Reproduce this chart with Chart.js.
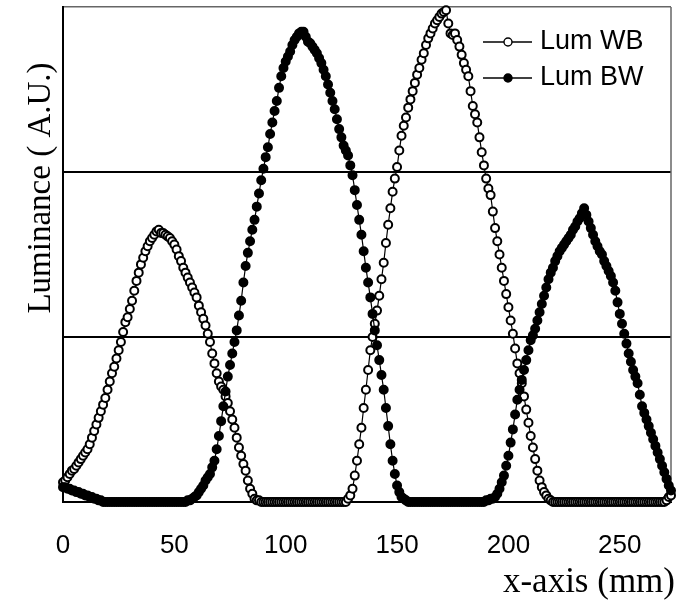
<!DOCTYPE html>
<html>
<head>
<meta charset="utf-8">
<title>Luminance profile</title>
<script src="https://cdn.jsdelivr.net/npm/chart.js@4.4.1/dist/chart.umd.min.js"></script>
<style>
  html, body { margin: 0; padding: 0; background: #fff; }
  #wrap { width: 677px; height: 601px; }
</style>
</head>
<body>
<div id="wrap"><canvas id="lumChart" width="677" height="601"></canvas></div>
<script>
// x position of every sample (mm)
const positions = [
  0, 1, 2, 3, 4, 5, 6, 7, 8, 9,
  10, 11, 12, 13, 14, 15, 16, 17, 18, 19,
  20, 21, 22, 23, 24, 25, 26, 27, 28, 29,
  30, 31, 32, 33, 34, 35, 36, 37, 38, 39,
  40, 41, 42, 43, 44, 45, 46, 47, 48, 49,
  50, 51, 52, 53, 54, 55, 56, 57, 58, 59,
  60, 61, 62, 63, 64, 65, 66, 67, 68, 69,
  70, 71, 72, 73, 74, 75, 76, 77, 78, 79,
  80, 81, 82, 83, 84, 85, 86, 87, 88, 89,
  90, 91, 92, 93, 94, 95, 96, 97, 98, 99,
  100, 101, 102, 103, 104, 105, 106, 107, 108, 109,
  110, 111, 112, 113, 114, 115, 116, 117, 118, 119,
  120, 121, 122, 123, 124, 125, 126, 127, 128, 129,
  130, 131, 132, 133, 134, 135, 136, 137, 138, 139,
  140, 141, 142, 143, 144, 145, 146, 147, 148, 149,
  150, 151, 152, 153, 154, 155, 156, 157, 158, 159,
  160, 161, 162, 163, 164, 165, 166, 167, 168, 169,
  170, 171, 172, 173, 174, 175, 176, 177, 178, 179,
  180, 181, 182, 183, 184, 185, 186, 187, 188, 189,
  190, 191, 192, 193, 194, 195, 196, 197, 198, 199,
  200, 201, 202, 203, 204, 205, 206, 207, 208, 209,
  210, 211, 212, 213, 214, 215, 216, 217, 218, 219,
  220, 221, 222, 223, 224, 225, 226, 227, 228, 229,
  230, 231, 232, 233, 234, 235, 236, 237, 238, 239,
  240, 241, 242, 243, 244, 245, 246, 247, 248, 249,
  250, 251, 252, 253, 254, 255, 256, 257, 258, 259,
  260, 261, 262, 263, 264, 265, 266, 267, 268, 269,
  270, 271, 272, 273
];

// white-black pattern
const lumWB = [
  0.12, 0.13, 0.15, 0.17, 0.19, 0.20, 0.22, 0.24, 0.26, 0.28,
  0.30, 0.32, 0.35, 0.39, 0.43, 0.47, 0.51, 0.55, 0.59, 0.63,
  0.68, 0.73, 0.78, 0.82, 0.87, 0.92, 0.97, 1.03, 1.09, 1.12,
  1.17, 1.22, 1.28, 1.34, 1.39, 1.44, 1.48, 1.52, 1.55, 1.58,
  1.60, 1.62, 1.64, 1.65, 1.63, 1.63, 1.62, 1.61, 1.60, 1.58,
  1.56, 1.53, 1.49, 1.46, 1.42, 1.39, 1.36, 1.33, 1.30, 1.27,
  1.24, 1.19, 1.15, 1.11, 1.07, 1.02, 0.97, 0.90, 0.84, 0.78,
  0.73, 0.70, 0.68, 0.64, 0.60, 0.55, 0.50, 0.45, 0.39, 0.33,
  0.28, 0.23, 0.19, 0.13, 0.08, 0.05, 0.02, 0.01, 0.01, 0,
  0, 0, 0, 0, 0, 0, 0, 0, 0, 0,
  0, 0, 0, 0, 0, 0, 0, 0, 0, 0,
  0, 0, 0, 0, 0, 0, 0, 0, 0, 0,
  0, 0, 0, 0, 0, 0, 0, 0, 0.02, 0.04,
  0.08, 0.16, 0.25, 0.35, 0.45, 0.57, 0.68, 0.80, 0.92, 1.00,
  1.08, 1.16, 1.25, 1.35, 1.45, 1.57, 1.68, 1.78, 1.88, 1.96,
  2.03, 2.13, 2.22, 2.28, 2.33, 2.39, 2.44, 2.49, 2.54, 2.59,
  2.63, 2.68, 2.72, 2.77, 2.81, 2.84, 2.87, 2.90, 2.92, 2.94,
  2.96, 2.97, 2.98, 2.90, 2.84, 2.83, 2.84, 2.80, 2.76, 2.71,
  2.66, 2.62, 2.58, 2.49, 2.40, 2.35, 2.30, 2.21, 2.12, 2.04,
  1.96, 1.90, 1.86, 1.76, 1.66, 1.58, 1.50, 1.42, 1.34, 1.26,
  1.18, 1.10, 1.02, 0.93, 0.84, 0.78, 0.72, 0.64, 0.56, 0.48,
  0.40, 0.33, 0.26, 0.19, 0.13, 0.09, 0.06, 0.04, 0.02, 0.01,
  0, 0, 0, 0, 0, 0, 0, 0, 0, 0,
  0, 0, 0, 0, 0, 0, 0, 0, 0, 0,
  0, 0, 0, 0, 0, 0, 0, 0, 0, 0,
  0, 0, 0, 0, 0, 0, 0, 0, 0, 0,
  0, 0, 0, 0, 0, 0, 0, 0, 0, 0,
  0, 0.01, 0.03, 0.04
];

// black-white pattern
const lumBW = [
  0.09, 0.09, 0.08, 0.08, 0.07, 0.07, 0.06, 0.06, 0.05, 0.05,
  0.04, 0.04, 0.03, 0.03, 0.02, 0.02, 0.01, 0.01, 0, 0,
  0, 0, 0, 0, 0, 0, 0, 0, 0, 0,
  0, 0, 0, 0, 0, 0, 0, 0, 0, 0,
  0, 0, 0, 0, 0, 0, 0, 0, 0, 0,
  0, 0, 0, 0, 0, 0, 0.01, 0.01, 0.02, 0.03,
  0.04, 0.06, 0.08, 0.10, 0.13, 0.15, 0.17, 0.21, 0.25, 0.32,
  0.40, 0.49, 0.58, 0.67, 0.76, 0.83, 0.90, 0.97, 1.04, 1.13,
  1.22, 1.33, 1.43, 1.51, 1.58, 1.65, 1.71, 1.79, 1.87, 1.95,
  2.02, 2.09, 2.15, 2.23, 2.30, 2.37, 2.43, 2.51, 2.58, 2.63,
  2.67, 2.70, 2.73, 2.77, 2.80, 2.82, 2.84, 2.85, 2.85, 2.82,
  2.79, 2.78, 2.76, 2.74, 2.72, 2.69, 2.66, 2.62, 2.58, 2.53,
  2.48, 2.43, 2.38, 2.32, 2.26, 2.21, 2.16, 2.13, 2.10, 2.04,
  1.98, 1.89, 1.80, 1.71, 1.62, 1.52, 1.42, 1.33, 1.24, 1.14,
  1.04, 0.95, 0.86, 0.77, 0.68, 0.57, 0.46, 0.35, 0.25, 0.17,
  0.10, 0.06, 0.03, 0.02, 0.01, 0, 0, 0, 0, 0,
  0, 0, 0, 0, 0, 0, 0, 0, 0, 0,
  0, 0, 0, 0, 0, 0, 0, 0, 0, 0,
  0, 0, 0, 0, 0, 0, 0, 0, 0, 0,
  0.01, 0.01, 0.02, 0.02, 0.03, 0.05, 0.08, 0.12, 0.16, 0.22,
  0.28, 0.36, 0.44, 0.53, 0.62, 0.68, 0.74, 0.80, 0.86, 0.92,
  0.98, 1.01, 1.05, 1.10, 1.15, 1.20, 1.25, 1.30, 1.35, 1.39,
  1.42, 1.46, 1.49, 1.52, 1.54, 1.56, 1.58, 1.60, 1.62, 1.65,
  1.67, 1.70, 1.72, 1.75, 1.78, 1.74, 1.70, 1.66, 1.62, 1.58,
  1.55, 1.52, 1.50, 1.46, 1.43, 1.40, 1.37, 1.33, 1.28, 1.21,
  1.14, 1.08, 1.02, 0.96, 0.90, 0.85, 0.80, 0.76, 0.72, 0.65,
  0.58, 0.54, 0.50, 0.46, 0.42, 0.38, 0.34, 0.30, 0.26, 0.22,
  0.18, 0.14, 0.10, 0.07
];

const xTickValues = [0, 50, 100, 150, 200, 250];
const seriesNames = ['Lum WB', 'Lum BW'];
const xTitle = 'x-axis (mm)';
const yTitle = 'Luminance ( A.U.)';

const toPoints = (vals) => positions.map((x, i) => ({ x: x, y: vals[i] }));

// frame lines, axis titles and the little legend in the corner
const extras = {
  id: 'extras',
  beforeDatasetsDraw(chart) {
    const { ctx, chartArea: a } = chart;
    ctx.save();
    ctx.strokeStyle = '#666';
    ctx.lineWidth = 1.5;
    ctx.beginPath();
    ctx.moveTo(a.right, a.top);
    ctx.lineTo(a.right, a.bottom);
    ctx.stroke();
    ctx.restore();
  },
  afterDraw(chart) {
    const { ctx, chartArea: a } = chart;
    ctx.save();
    ctx.fillStyle = '#000';

    // axis titles
    ctx.font = '35px "Liberation Serif"';
    ctx.textAlign = 'right';
    ctx.textBaseline = 'middle';
    ctx.fillText(xTitle, 675, 583);

    ctx.font = '33px "Liberation Serif"';
    ctx.translate(50, 188);
    ctx.rotate(-Math.PI / 2);
    ctx.textAlign = 'center';
    ctx.textBaseline = 'alphabetic';
    ctx.fillText(yTitle, 0, 0);
    ctx.restore();

    // legend
    ctx.save();
    ctx.font = '27px "Liberation Sans"';
    ctx.textAlign = 'left';
    ctx.textBaseline = 'middle';
    const rows = [{ y: 42, fill: '#fff' }, { y: 78, fill: '#000' }];
    rows.forEach((r, i) => {
      ctx.strokeStyle = '#000';
      ctx.lineWidth = 1.4;
      ctx.beginPath();
      ctx.moveTo(a.right - 188, r.y);
      ctx.lineTo(a.right - 139, r.y);
      ctx.stroke();
      ctx.beginPath();
      ctx.arc(a.right - 163, r.y, 4, 0, Math.PI * 2);
      ctx.fillStyle = r.fill;
      ctx.fill();
      ctx.stroke();
      ctx.fillStyle = '#000';
      ctx.fillText(seriesNames[i], a.right - 131, r.y);
    });
    ctx.restore();
  }
};

const ctx = document.getElementById('lumChart').getContext('2d');
const lumChart = new Chart(ctx, {
  type: 'line',
  data: {
    datasets: [{
      label: seriesNames[0],
      data: toPoints(lumWB),
      borderColor: '#000',
      borderWidth: 1.2,
      pointRadius: 4,
      pointBorderWidth: 2,
      pointBackgroundColor: '#fff',
      pointBorderColor: '#000',
      clip: false,
      order: 1
    }, {
      label: seriesNames[1],
      data: toPoints(lumBW),
      borderColor: '#000',
      borderWidth: 1.2,
      pointRadius: 4,
      pointBorderWidth: 2,
      pointBackgroundColor: '#000',
      pointBorderColor: '#000',
      clip: false,
      order: 0
    }]
  },
  options: {
    responsive: false,
    animation: false,
    layout: { padding: { top: 7, right: 4, left: 0, bottom: 0 } },
    plugins: {
      legend: { display: false },
      tooltip: { enabled: false }
    },
    scales: {
      x: {
        type: 'linear',
        min: 0,
        max: 273,
        afterFit: (s) => { s.height = 99; },
        afterBuildTicks: (s) => { s.ticks = xTickValues.map(v => ({ value: v })); },
        grid: { display: false, drawTicks: false },
        border: { display: true, color: '#000', width: 2 },
        ticks: {
          color: '#000',
          padding: 28,
          maxRotation: 0,
          font: { family: 'Liberation Sans', size: 26 }
        }
      },
      y: {
        min: 0,
        max: 3,
        afterFit: (s) => { s.width = 63; },
        ticks: { display: false, stepSize: 1 },
        grid: {
          drawTicks: false,
          color: (c) => (c.tick && c.tick.value === 3 ? '#666' : '#000'),
          lineWidth: (c) => (c.tick && c.tick.value === 3 ? 1.5 : 2)
        },
        border: { display: true, color: '#000', width: 2 }
      }
    }
  },
  plugins: [extras]
});
</script>
</body>
</html>
